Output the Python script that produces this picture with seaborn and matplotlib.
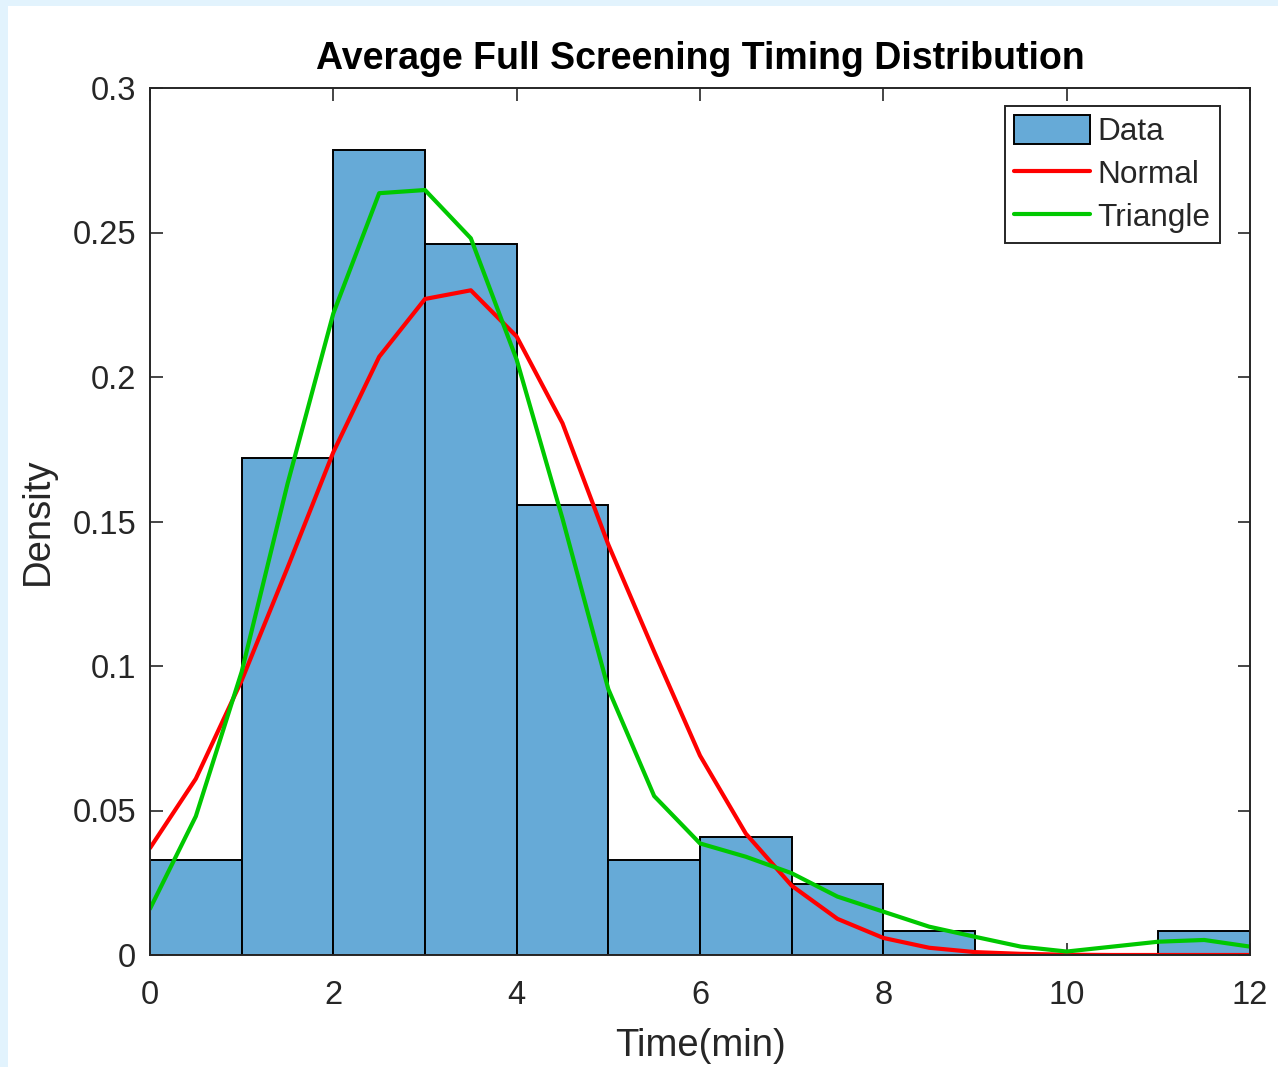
import numpy as np
import pandas as pd
import matplotlib
matplotlib.use("Agg")
import matplotlib.pyplot as plt
from matplotlib.patches import Patch, Rectangle
from matplotlib.lines import Line2D
import seaborn as sns

# histogram bins (width 1 min) and density
bin_edges = [0, 1, 2, 3, 4, 5, 6, 7, 8, 9, 10, 11, 12]
bin_density = [0.0328, 0.1721, 0.2787, 0.2459, 0.1557, 0.0328,
               0.0410, 0.0246, 0.0082, 0.0, 0.0, 0.0082]

# fitted curves evaluated every 0.5 min
curve_x = [0, 0.5, 1, 1.5, 2, 2.5, 3, 3.5, 4, 4.5, 5, 5.5, 6, 6.5, 7, 7.5,
           8, 8.5, 9, 9.5, 10, 10.5, 11, 11.5, 12]
normal_y = [0.037, 0.061, 0.095, 0.134, 0.174, 0.207, 0.227, 0.230, 0.214,
            0.184, 0.142, 0.105, 0.069, 0.042, 0.024, 0.0125, 0.0059, 0.0025,
            0.001, 0.0004, 0.0001, 0.0, 0.0, 0.0, 0.0]
triangle_y = [0.016, 0.048, 0.098, 0.163, 0.222, 0.2636, 0.2647, 0.248, 0.206,
              0.151, 0.092, 0.055, 0.0386, 0.034, 0.0283, 0.0202, 0.015, 0.0098,
              0.0063, 0.0029, 0.0012, 0.0029, 0.0046, 0.0052, 0.0029]

bar_color = "#66aad7"
axis_grey = "#262626"

sns.set_style("ticks")
plt.rcParams["font.family"] = ["Liberation Sans", "DejaVu Sans"]

fig = plt.figure(figsize=(12.78, 10.67), dpi=100)
fig.patch.set_facecolor("white")
# light blue screenshot border
fig.patches.append(Rectangle((0, 0), 8 / 1278, 1, transform=fig.transFigure,
                             facecolor="#e2f3fd", edgecolor="none", zorder=0))
fig.patches.append(Rectangle((0, 1 - 6 / 1067), 1, 6 / 1067, transform=fig.transFigure,
                             facecolor="#e2f3fd", edgecolor="none", zorder=0))

ax = fig.add_axes([150 / 1278, 1 - 955 / 1067, 1100 / 1278, 867 / 1067])

centers = [(a + b) / 2 for a, b in zip(bin_edges[:-1], bin_edges[1:])]
hist_df = pd.DataFrame({"t": centers, "d": bin_density})
sns.histplot(data=hist_df, x="t", weights="d", bins=bin_edges, stat="count",
             color=bar_color, alpha=1, edgecolor="black", linewidth=1.4, ax=ax)

sns.lineplot(x=curve_x, y=normal_y, color="#ff0000", linewidth=3.0, ax=ax)
sns.lineplot(x=curve_x, y=triangle_y, color="#00c800", linewidth=3.0, ax=ax)

ax.set_xlim(0, 12)
ax.set_ylim(0, 0.3)
ax.set_xticks([0, 2, 4, 6, 8, 10, 12])
ax.set_yticks([0, 0.05, 0.1, 0.15, 0.2, 0.25, 0.3])
ax.set_yticklabels(["0", "0.05", "0.1", "0.15", "0.2", "0.25", "0.3"])
ax.tick_params(direction="in", length=9, width=1.2, top=True, right=True,
               labelsize=23.5, colors=axis_grey)
ax.tick_params(axis="x", pad=18)
ax.tick_params(axis="y", pad=10)
for s in ax.spines.values():
    s.set_visible(True)
    s.set_color(axis_grey)
    s.set_linewidth(1.4)

ax.set_title("Average Full Screening Timing Distribution", fontsize=27,
             fontweight="bold", color="black", pad=14)
ax.set_xlabel("Time(min)", fontsize=27.5, color=axis_grey, labelpad=12)
ax.set_ylabel("Density", fontsize=27.5, color=axis_grey, labelpad=12)

handles = [Patch(facecolor=bar_color, edgecolor="black", linewidth=1.4),
           Line2D([], [], color="#ff0000", linewidth=3.0),
           Line2D([], [], color="#00c800", linewidth=3.0)]
leg = ax.legend(handles, ["Data", "Normal", "Triangle"], loc="upper right",
                bbox_to_anchor=(1220 / 1278, 1 - 106 / 1067),
                bbox_transform=fig.transFigure, fontsize=22.7, fancybox=False,
                framealpha=1, edgecolor=axis_grey, handlelength=2.4,
                handleheight=1.0, handletextpad=0.25, borderpad=0.3,
                labelspacing=0.35, borderaxespad=0)
leg.get_frame().set_linewidth(1.4)

fig.savefig("out.png", dpi=100, facecolor=fig.get_facecolor())
